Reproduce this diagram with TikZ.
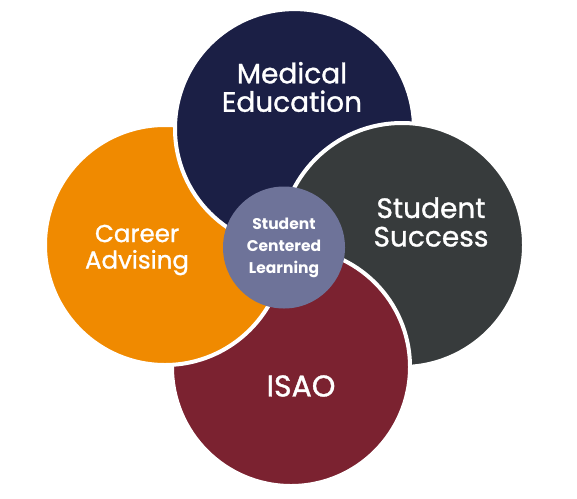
\documentclass[tikz,border=0pt]{standalone}
\usepackage{fontspec}
\setmainfont{Poppins}
\newfontfamily\semifont[FakeBold=1.1]{Poppins}
\definecolor{navyc}{HTML}{1B1F45}
\definecolor{grayc}{HTML}{373B3C}
\definecolor{orangec}{HTML}{F08A00}
\definecolor{maroonc}{HTML}{7B2230}
\definecolor{centerc}{HTML}{6E7399}
\begin{document}
\begin{tikzpicture}[x=1pt,y=-1pt,
  petal/.style={circle, draw=white, line width=4pt, inner sep=0pt},
  biglabel/.style={text=white, align=center, font=\semifont\fontsize{28}{28.5}\selectfont},
  midlabel/.style={text=white, align=center, font=\semifont\fontsize{24.5}{26.5}\selectfont},
  hublabel/.style={text=white, align=center, font=\bfseries\fontsize{15.5}{22}\selectfont}]
\useasboundingbox (0,0) rectangle (577,498);
\fill[white] (0,0) rectangle (577,498);
% petals (cyclic overlap)
\node[petal, fill=orangec, minimum size=240pt] (car) at (165,245) {};
\node[petal, fill=navyc, minimum size=239pt] (med) at (294.5,128.6) {};
\node[petal, fill=grayc, minimum size=244pt] (suc) at (402,245) {};
\node[petal, fill=maroonc, minimum size=238pt] (isao) at (291,367) {};
\begin{scope}
  \clip (0,250) rectangle (577,498);
  \node[petal, fill=orangec, minimum size=240pt] (cartop) at (car.center) {};
\end{scope}
% hub
\node[circle, fill=centerc, minimum size=122pt, inner sep=0pt] (hub) at (284,247.5) {};
% labels
\node[biglabel] (medt) at (292,87) {Medical\\Education};
\node[biglabel] (suct) at (431,222) {Student\\Success};
\node[midlabel] (cart) at (137,250) {Career\\Advising};
\node[biglabel, font=\semifont\fontsize{30}{30}\selectfont] (isaot) at (301,386) {ISAO};
\node[hublabel] (hubt) at (hub.center) {Student\\Centered\\Learning};
\end{tikzpicture}
\end{document}
